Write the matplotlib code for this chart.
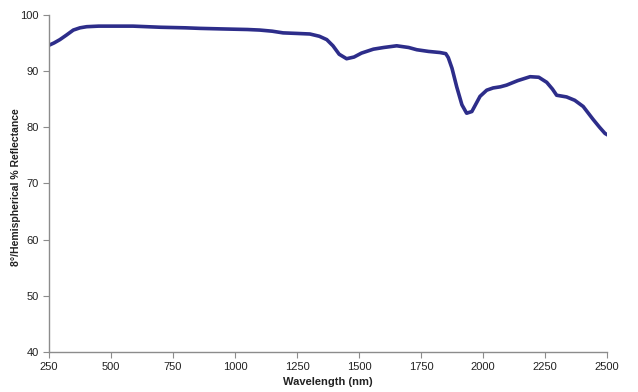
import matplotlib.pyplot as plt

plt.rcParams['font.family'] = ['Liberation Sans', 'DejaVu Sans']

# values
wavelength = [250, 270, 294, 320, 348, 375, 402, 450, 500, 589, 700, 800, 859,
              950, 1050, 1100, 1150, 1194, 1250, 1302, 1340, 1370, 1395, 1420,
              1450, 1480, 1510, 1558, 1600, 1652, 1700, 1733, 1780, 1827, 1850,
              1860, 1875, 1894, 1915, 1934, 1955, 1988, 2015, 2041, 2070, 2095,
              2140, 2190, 2225, 2257, 2280, 2297, 2337, 2370, 2404, 2444, 2470,
              2492, 2500]
reflectance = [94.6, 95.0, 95.6, 96.4, 97.3, 97.7, 97.9, 98.0, 98.0, 98.0, 97.8,
               97.7, 97.6, 97.5, 97.4, 97.3, 97.1, 96.8, 96.7, 96.6, 96.2, 95.6,
               94.5, 93.0, 92.2, 92.5, 93.2, 93.9, 94.2, 94.5, 94.2, 93.8, 93.5,
               93.3, 93.1, 92.4, 90.5, 87.2, 84.0, 82.5, 82.8, 85.5, 86.6, 87.0,
               87.2, 87.5, 88.3, 89.0, 88.9, 88.0, 86.8, 85.7, 85.4, 84.8, 83.7,
               81.4, 80.0, 78.9, 78.7]

fig = plt.figure(figsize=(6.38, 3.92), dpi=100)
ax = fig.add_axes([0.0768, 0.102, 0.8746, 0.86])

ax.plot(wavelength, reflectance, color='#2d2d8a', lw=2.6, solid_joinstyle='round')

ax.set_xlim(250, 2500)
ax.set_ylim(40, 100)
ax.set_xticks(range(250, 2501, 250))
ax.set_yticks(range(40, 101, 10))

for side in ['top', 'right']:
    ax.spines[side].set_visible(False)
for side in ['left', 'bottom']:
    ax.spines[side].set_color('#8c8c8c')
    ax.spines[side].set_linewidth(1.0)
ax.tick_params(direction='out', length=4, color='#8c8c8c', labelsize=8, labelcolor='#222222')

ax.set_xlabel('Wavelength (nm)', fontsize=8, fontweight='bold', color='#222222', labelpad=3)
ax.set_ylabel('8°/Hemispherical % Reflectance', fontsize=7.5, fontweight='bold',
              color='#222222')
ax.yaxis.set_label_coords(-0.05, 0.49)

fig.savefig('out.png', dpi=100)
